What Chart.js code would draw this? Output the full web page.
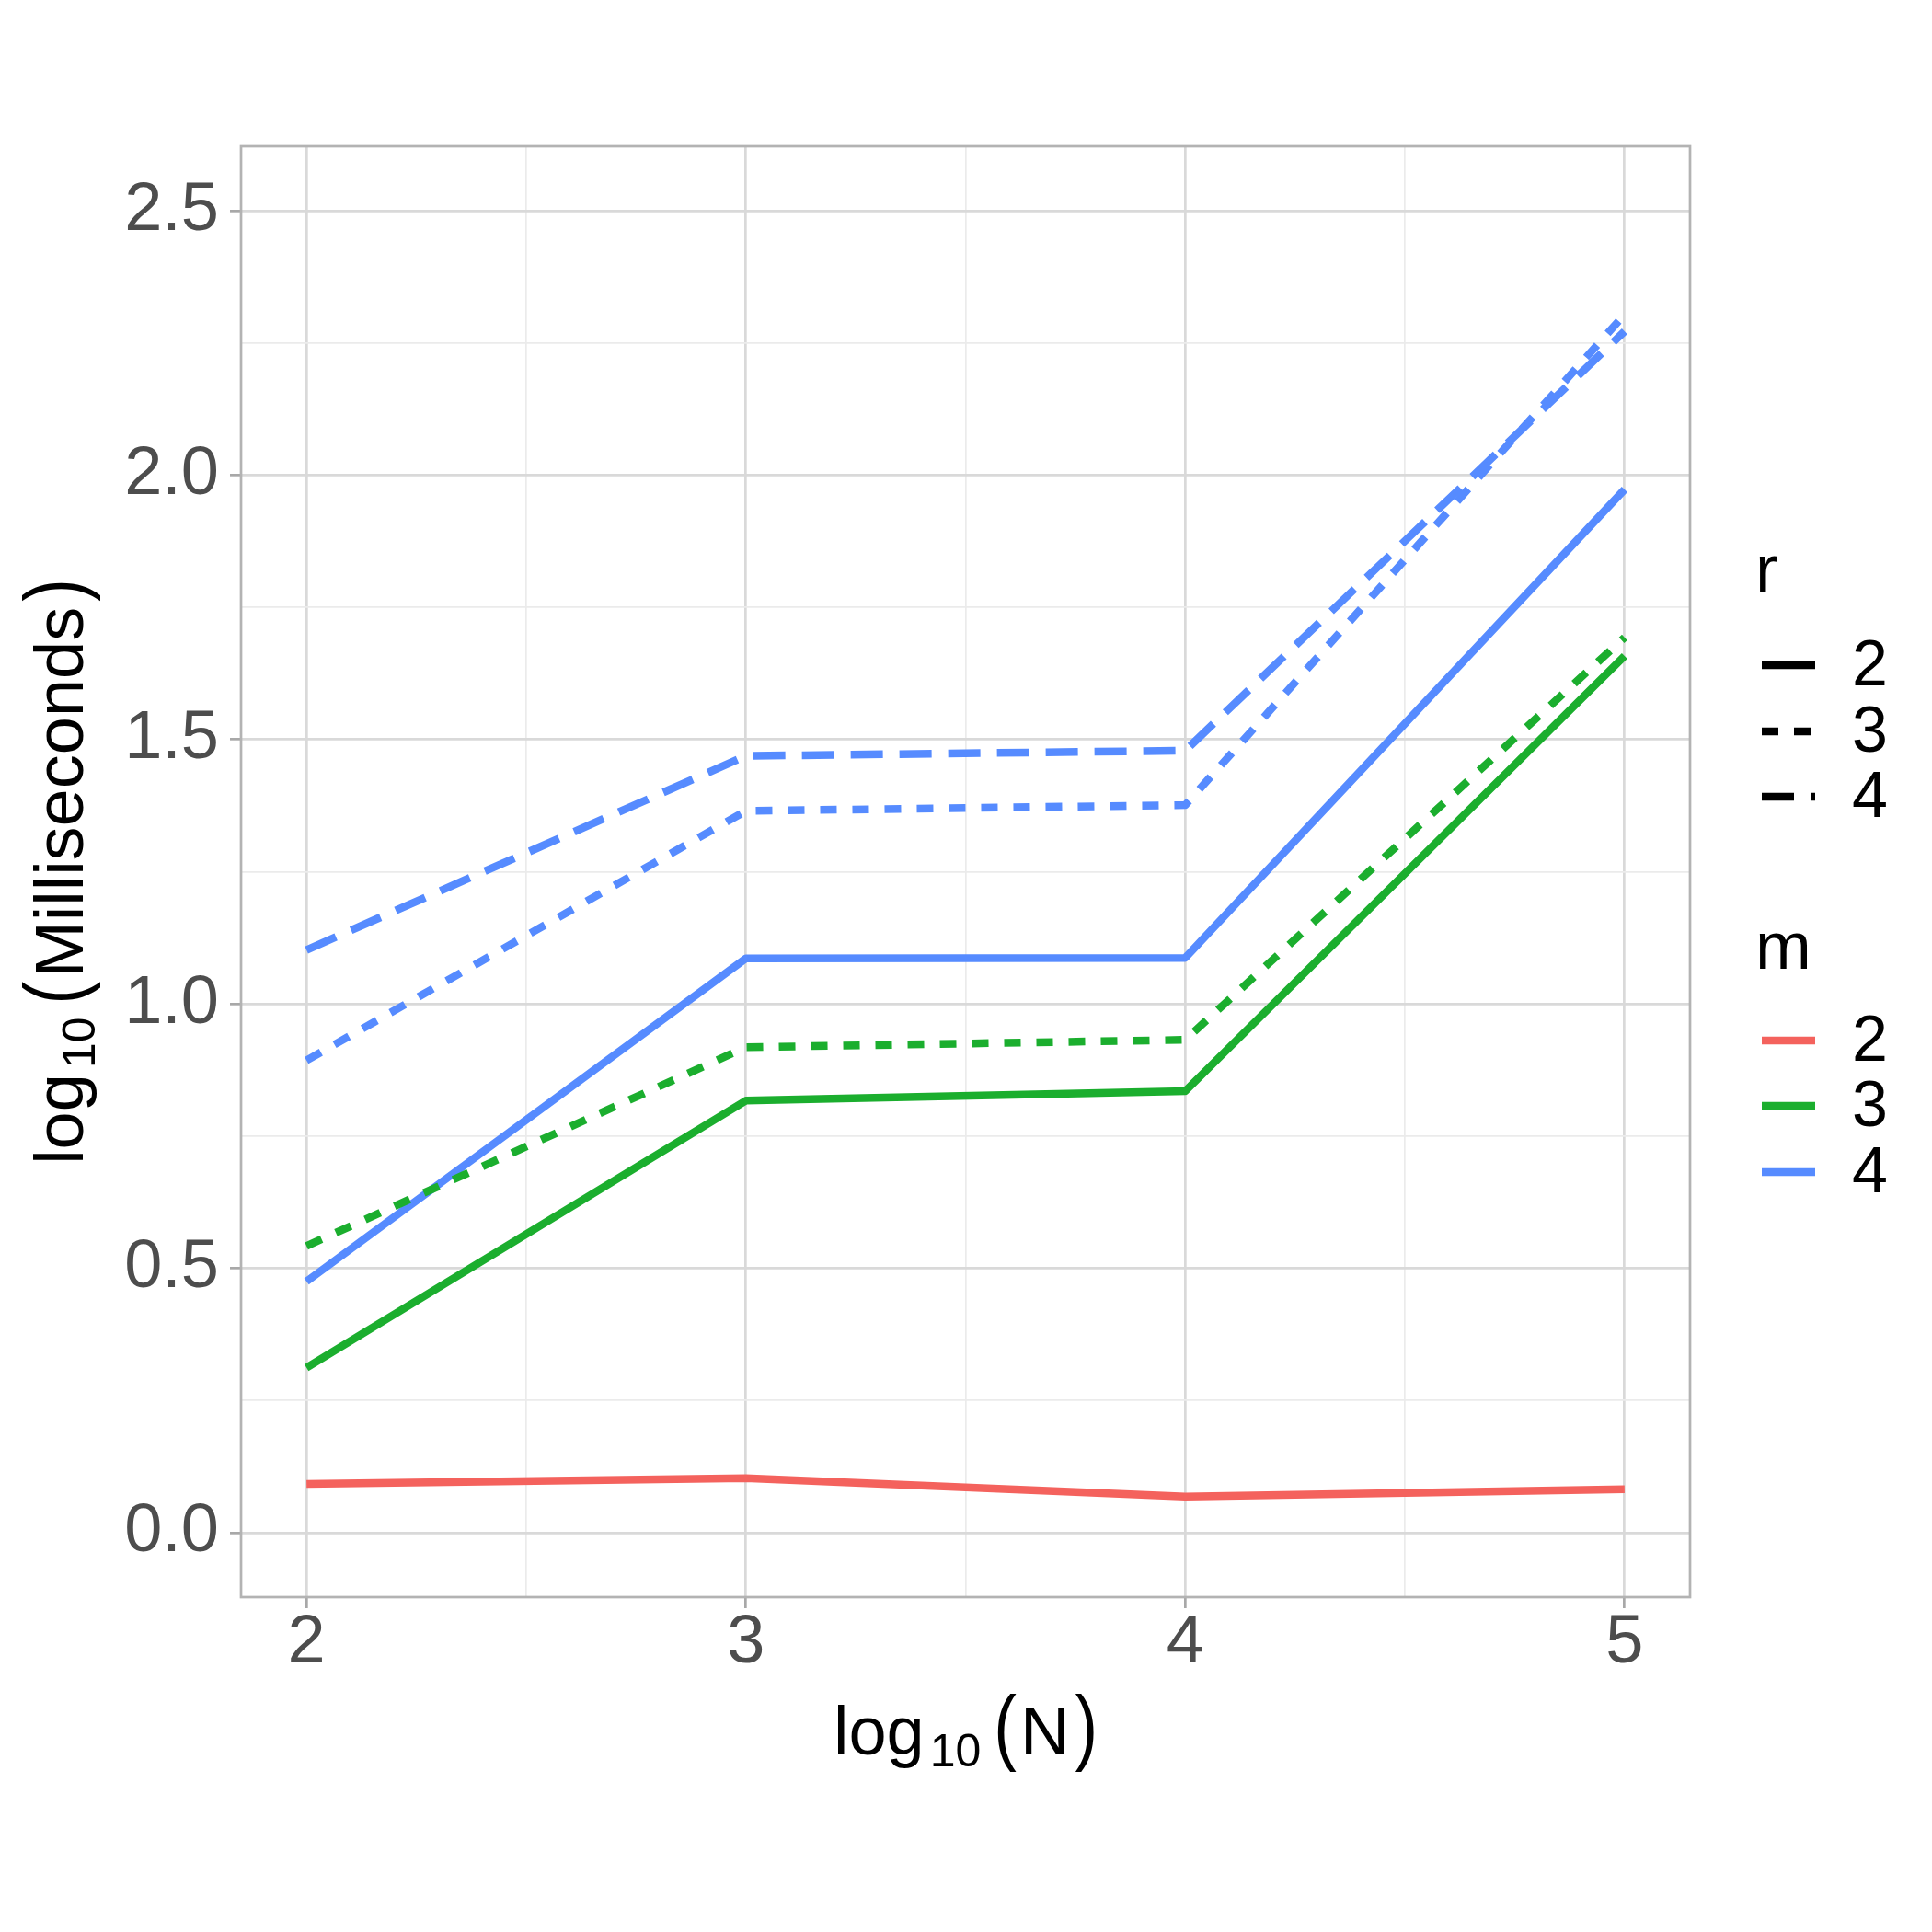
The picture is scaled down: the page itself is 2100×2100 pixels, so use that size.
<!DOCTYPE html>
<html>
<head>
<meta charset="utf-8">
<script src="https://cdn.jsdelivr.net/npm/chart.js@4.4.1/dist/chart.umd.min.js"></script>
<style>
  html, body { margin: 0; padding: 0; background: #fff; }
  #wrap { width: 2100px; height: 2100px; }
</style>
</head>
<body>
<div id="wrap"><canvas id="chart" width="2100" height="2100"></canvas></div>
<script>
// x positions: log10(N)
const logN = [2, 3, 4, 5];

// log10(Milliseconds), one array per (m, r) pair
const m2r2 = [0.092, 0.103, 0.068, 0.082];
const m3r2 = [0.312, 0.817, 0.835, 1.658];
const m3r3 = [0.542, 0.918, 0.932, 1.693];
const m4r2 = [0.475, 1.086, 1.087, 1.973];
const m4r3 = [0.893, 1.365, 1.376, 2.304];
const m4r4 = [1.102, 1.469, 1.479, 2.272];

// legend levels
const rLevels = ['2', '3', '4'];
const mLevels = ['2', '3', '4'];

// axis ticks
const xMajor = [2, 3, 4, 5];
const xMinor = [2.5, 3.5, 4.5];
const yMajor = [0, 0.5, 1, 1.5, 2, 2.5];
const yMinor = [0.25, 0.75, 1.25, 1.75, 2.25];

const FONT = "'Liberation Sans', Arial, sans-serif";
const mColor = { '2': '#F4625D', '3': '#1BAE2E', '4': '#568BFF' };
const rDash = { '2': [], '3': [18, 17], '4': [35, 18] };

const series = [
    { m: '2', r: '2', y: m2r2 },
    { m: '3', r: '2', y: m3r2 },
    { m: '3', r: '3', y: m3r3 },
    { m: '4', r: '2', y: m4r2 },
    { m: '4', r: '3', y: m4r3 },
    { m: '4', r: '4', y: m4r4 }
];

const datasets = series.map(s => ({
    label: 'm=' + s.m + ', r=' + s.r,
    data: logN.map((x, i) => ({ x: x, y: s.y[i] })),
    borderColor: mColor[s.m],
    borderWidth: 8.5,
    borderDash: rDash[s.r],
    borderCapStyle: 'butt',
    borderJoinStyle: 'round',
    pointRadius: 0,
    fill: false,
    tension: 0
}));

const isIn = (arr, v) => arr.some(a => Math.abs(a - v) < 1e-9);

// draws "log" + subscript "10" + "(label)" centred on (0, 0), baseline at 0
// parentheses are stretched vertically like plotmath does
function drawLogTitle(ctx, label) {
    const parts = [
        { t: 'log', size: 74, dy: 0, gap: 6, sy: 1 },
        { t: '10', size: 50, dy: 13, gap: 14, sy: 1 },
        { t: '(', size: 74, dy: 0, gap: 4, sy: 1.22 },
        { t: label, size: 74, dy: 0, gap: 6, sy: 1 },
        { t: ')', size: 74, dy: 0, gap: 0, sy: 1.22 }
    ];
    let total = 0;
    parts.forEach(p => {
        ctx.font = p.size + 'px ' + FONT;
        p.w = ctx.measureText(p.t).width;
        total += p.w + p.gap;
    });
    let x = -total / 2;
    ctx.textAlign = 'left';
    ctx.textBaseline = 'alphabetic';
    ctx.fillStyle = '#000';
    parts.forEach(p => {
        ctx.font = p.size + 'px ' + FONT;
        ctx.save();
        ctx.translate(x, p.dy);
        ctx.scale(1, p.sy);
        ctx.fillText(p.t, 0, 0);
        ctx.restore();
        x += p.w + p.gap;
    });
}

function drawKey(ctx, y, color, dash, label) {
    ctx.beginPath();
    ctx.setLineDash(dash);
    ctx.lineCap = 'butt';
    ctx.strokeStyle = color;
    ctx.lineWidth = 8.3;
    ctx.moveTo(1915, y);
    ctx.lineTo(1973, y);
    ctx.stroke();
    ctx.setLineDash([]);
    ctx.fillStyle = '#000';
    ctx.font = '70px ' + FONT;
    ctx.textAlign = 'left';
    ctx.textBaseline = 'middle';
    ctx.fillText(label, 2013, y + 3);
}

const decorPlugin = {
    id: 'decor',
    afterDraw(chart) {
        const { ctx, chartArea: a } = chart;
        ctx.save();

        // panel border
        ctx.strokeStyle = '#B3B3B3';
        ctx.lineWidth = 2.7;
        ctx.setLineDash([]);
        ctx.strokeRect(a.left, a.top, a.right - a.left, a.bottom - a.top);

        // axis titles
        ctx.save();
        ctx.translate((a.left + a.right) / 2, 1907);
        drawLogTitle(ctx, 'N');
        ctx.restore();

        ctx.save();
        ctx.translate(90, (a.top + a.bottom) / 2);
        ctx.rotate(-Math.PI / 2);
        drawLogTitle(ctx, 'Milliseconds');
        ctx.restore();

        // legend: r (linetype)
        ctx.fillStyle = '#000';
        ctx.textAlign = 'left';
        ctx.textBaseline = 'alphabetic';
        ctx.font = '73px ' + FONT;
        ctx.fillText('r', 1908, 643);
        const rY = [723, 795, 866];
        rLevels.forEach((lv, i) => drawKey(ctx, rY[i], '#000', rDash[lv], lv));

        // legend: m (colour)
        ctx.fillStyle = '#000';
        ctx.textAlign = 'left';
        ctx.textBaseline = 'alphabetic';
        ctx.font = '73px ' + FONT;
        ctx.fillText('m', 1908, 1053);
        const mY = [1131, 1202, 1274];
        mLevels.forEach((lv, i) => drawKey(ctx, mY[i], mColor[lv], [], lv));

        ctx.restore();
    }
};

const gridColor = major => ctx => {
    const v = ctx.tick ? ctx.tick.value : 0;
    return isIn(major, v) ? '#D9D9D9' : '#EBEBEB';
};
const gridWidth = major => ctx => {
    const v = ctx.tick ? ctx.tick.value : 0;
    return isIn(major, v) ? 2.7 : 1.7;
};
const tickMarkColor = major => ctx => {
    const v = ctx.tick ? ctx.tick.value : 0;
    return isIn(major, v) ? '#A8A8A8' : 'rgba(0,0,0,0)';
};

const ctxChart = document.getElementById('chart').getContext('2d');
new Chart(ctxChart, {
    type: 'line',
    data: { datasets: datasets },
    options: {
        responsive: false,
        devicePixelRatio: 1,
        animation: false,
        layout: { padding: { left: 0, right: 263, top: 159, bottom: 0 } },
        plugins: {
            legend: { display: false },
            tooltip: { enabled: false }
        },
        scales: {
            x: {
                type: 'linear',
                min: 1.851,
                max: 5.149,
                afterBuildTicks: scale => {
                    scale.ticks = xMajor.concat(xMinor).sort((p, q) => p - q).map(v => ({ value: v }));
                },
                afterFit: scale => { scale.height = 364; },
                border: { display: false },
                grid: {
                    color: gridColor(xMajor),
                    lineWidth: gridWidth(xMajor),
                    drawTicks: true,
                    tickLength: 12,
                    tickWidth: 2.7,
                    tickColor: tickMarkColor(xMajor)
                },
                ticks: {
                    autoSkip: false,
                    maxRotation: 0,
                    padding: 2,
                    color: '#4D4D4D',
                    font: { family: FONT, size: 74, lineHeight: 1 },
                    callback: v => isIn(xMajor, v) ? String(v) : ''
                }
            },
            y: {
                type: 'linear',
                min: -0.122,
                max: 2.622,
                afterBuildTicks: scale => {
                    scale.ticks = yMajor.concat(yMinor).sort((p, q) => p - q).map(v => ({ value: v }));
                },
                afterFit: scale => { scale.width = 262; },
                border: { display: false },
                grid: {
                    color: gridColor(yMajor),
                    lineWidth: gridWidth(yMajor),
                    drawTicks: true,
                    tickLength: 12,
                    tickWidth: 2.7,
                    tickColor: tickMarkColor(yMajor)
                },
                ticks: {
                    autoSkip: false,
                    padding: 12,
                    color: '#4D4D4D',
                    font: { family: FONT, size: 74, lineHeight: 1 },
                    callback: v => isIn(yMajor, v) ? v.toFixed(1) : ''
                }
            }
        }
    },
    plugins: [decorPlugin]
});
</script>
</body>
</html>
